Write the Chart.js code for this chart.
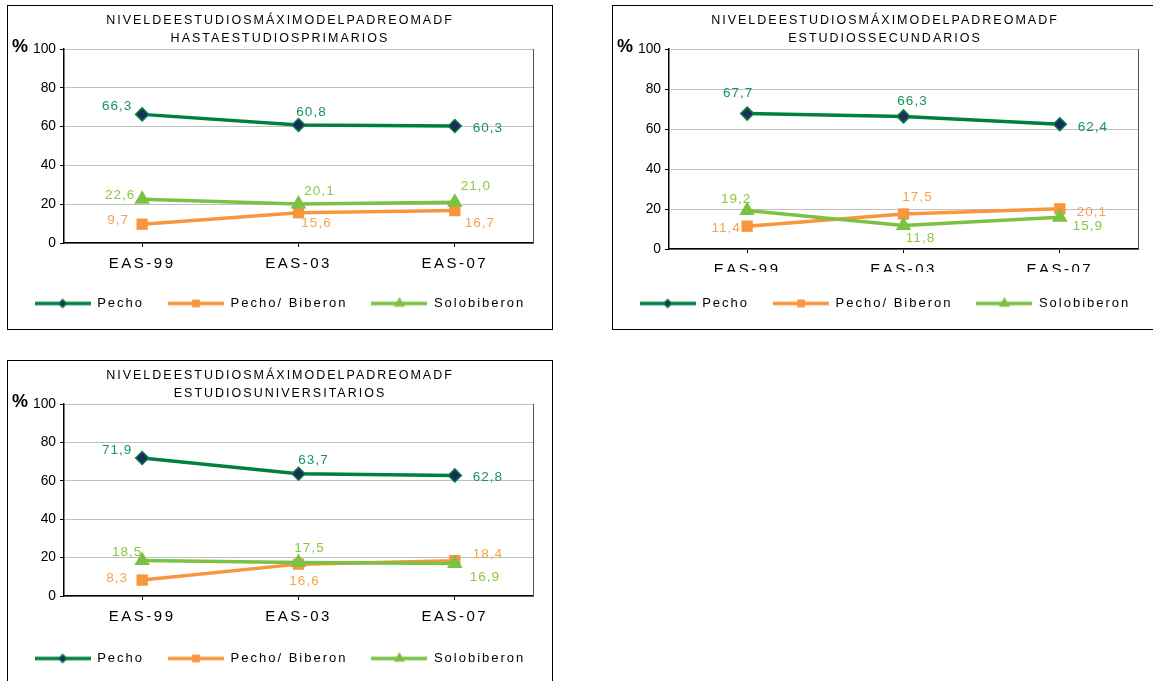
<!DOCTYPE html>
<html lang="es">
<head>
<meta charset="UTF-8">
<title>Nivel de estudios máximo del padre o madre</title>
<script src="https://cdn.jsdelivr.net/npm/chart.js"></script>
<style>
  html, body { margin: 0; padding: 0; background: #fff; overflow: hidden; }
  body { position: relative; width: 1153px; height: 681px; }
  .box { position: absolute; border: 1px solid #000; width: 544px; height: 323px; }
  .box canvas { display: block; }
</style>
</head>
<body>
<div class="box" style="left:7px; top:5px;"><canvas id="chart1" width="544" height="323"></canvas></div>
<div class="box" style="left:612px; top:5px;"><canvas id="chart2" width="544" height="323"></canvas></div>
<div class="box" style="left:7px; top:360px;"><canvas id="chart3" width="544" height="323"></canvas></div>
<script>
// ---- data ----
const categories = ['EAS-99', 'EAS-03', 'EAS-07'];
const seriesNames = ['Pecho', 'Pecho/ Biberon', 'Solobiberon'];
const titleLine1 = 'NIVELDEESTUDIOSMÁXIMODELPADREOMADF';
const subtitles = ['HASTAESTUDIOSPRIMARIOS', 'ESTUDIOSSECUNDARIOS', 'ESTUDIOSUNIVERSITARIOS'];
const unitLabel = '%';
const yMin = 0, yMax = 100, yStep = 20;

// hasta estudios primarios
const pecho1 = [66.3, 60.8, 60.3];
const mixto1 = [9.7, 15.6, 16.7];
const biberon1 = [22.6, 20.1, 21.0];
// estudios secundarios
const pecho2 = [67.7, 66.3, 62.4];
const mixto2 = [11.4, 17.5, 20.1];
const biberon2 = [19.2, 11.8, 15.9];
// estudios universitarios
const pecho3 = [71.9, 63.7, 62.8];
const mixto3 = [8.3, 16.6, 18.4];
const biberon3 = [18.5, 17.5, 16.9];

// ---- styles ----
const FONT = '"Liberation Sans", Arial, sans-serif';
Chart.defaults.font.family = FONT;
Chart.defaults.color = '#000';

const seriesStyles = [
  { color: '#00803f', point: 'rectRot', radius: 6.5, legendRadius: 4, fill: '#1f2b5c', border: 1.5, labelColor: '#16955a', order: 0 },
  { color: '#f7963c', point: 'rect', radius: 8, legendRadius: 5.5, fill: '#f7963c', border: 0, labelColor: '#f7a24e', order: 2 },
  { color: '#7bc143', point: 'triangle', radius: 9, legendRadius: 6.5, fill: '#7bc143', border: 0, labelColor: '#8cc63f', order: 1 }
];

// where each value label sits, relative to its point (dx, dy of the text centre)
const labelOffsets1 = [
  [[-25, -8], [13, -13], [33, 2]],
  [[-24, -4], [18, 11], [25, 13]],
  [[-22, -4], [21, -13], [21, -16]]
];
const labelOffsets2 = [
  [[-9, -20], [9, -15], [33, 3]],
  [[-21, 2], [14, -17], [32, 3]],
  [[-11, -11], [17, 13], [28, 9]]
];
const labelOffsets3 = [
  [[-25, -8], [15, -13], [33, 2]],
  [[-25, -2], [6, 17], [33, -6]],
  [[-15, -8], [11, -14], [30, 14]]
];

// the original picture is letter-spaced; pick spacing by font size
function spacingFor(font) {
  const m = /([\d.]+)px/.exec(font);
  const size = m ? parseFloat(m[1]) : 12;
  if (size === 15) return '2.5px';
  if (size === 13 || size === 12.5) return '2px';
  if (size === 13.5) return '1px';
  return '0px';
}

function spacedContext(canvas) {
  const ctx = canvas.getContext('2d');
  const fill = ctx.fillText.bind(ctx);
  const measure = ctx.measureText.bind(ctx);
  ctx.fillText = function (t, x, y, w) {
    ctx.letterSpacing = spacingFor(ctx.font);
    return w === undefined ? fill(t, x, y) : fill(t, x, y, w);
  };
  ctx.measureText = function (t) {
    ctx.letterSpacing = spacingFor(ctx.font);
    return measure(t);
  };
  return ctx;
}

// line + marker image for the legend
function legendIcon(style) {
  const c = document.createElement('canvas');
  c.width = 56;
  c.height = 14;
  const g = c.getContext('2d');
  g.strokeStyle = style.color;
  g.lineWidth = 3.5;
  g.beginPath();
  g.moveTo(0, 7);
  g.lineTo(56, 7);
  g.stroke();
  g.fillStyle = style.fill;
  g.strokeStyle = style.color;
  g.lineWidth = style.border;
  Chart.helpers.drawPoint(g, { pointStyle: style.point, radius: style.legendRadius, rotation: 0, borderWidth: style.border }, 28, 7);
  return c;
}
const icons = seriesStyles.map(legendIcon);

// value labels, "66,3" style
const valueLabels = {
  id: 'valueLabels',
  afterDatasetsDraw(chart, args, opts) {
    const ctx = chart.ctx;
    ctx.save();
    ctx.font = '13.5px ' + FONT;
    ctx.textAlign = 'center';
    ctx.textBaseline = 'middle';
    chart.data.datasets.forEach((ds, i) => {
      const meta = chart.getDatasetMeta(i);
      ctx.fillStyle = seriesStyles[i].labelColor;
      meta.data.forEach((pt, j) => {
        const [dx, dy] = opts.offsets[i][j];
        ctx.fillText(ds.data[j].toFixed(1).replace('.', ','), pt.x + dx, pt.y + dy);
      });
    });
    ctx.restore();
  }
};

// "%" next to the top tick, and the cut-off category labels of the second chart
const extras = {
  id: 'extras',
  afterDraw(chart, args, opts) {
    const { ctx, chartArea } = chart;
    ctx.save();
    if (opts.cutTicksAt) {
      ctx.fillStyle = '#fff';
      ctx.fillRect(chartArea.left - 30, chartArea.bottom + opts.cutTicksAt, chartArea.width + 40, 14);
    }
    ctx.font = 'bold 18px ' + FONT;
    ctx.fillStyle = '#000';
    ctx.textAlign = 'left';
    ctx.textBaseline = 'middle';
    ctx.fillText(unitLabel, chartArea.left - 52, chartArea.top - 2);
    ctx.restore();
  }
};

function buildDatasets(values) {
  return values.map((data, i) => ({
    label: seriesNames[i],
    data: data,
    yAxisID: 'y',
    borderColor: seriesStyles[i].color,
    borderWidth: 3.5,
    backgroundColor: seriesStyles[i].fill,
    pointStyle: seriesStyles[i].point,
    pointRadius: seriesStyles[i].radius,
    pointBorderColor: seriesStyles[i].color,
    pointBorderWidth: seriesStyles[i].border,
    pointBackgroundColor: seriesStyles[i].fill,
    tension: 0,
    order: seriesStyles[i].order
  }));
}

function makeChart(id, subtitle, values, offsets, xAxisHeight, cutTicksAt) {
  const ctx = spacedContext(document.getElementById(id));
  return new Chart(ctx, {
    type: 'line',
    data: { labels: categories, datasets: buildDatasets(values) },
    plugins: [valueLabels, extras],
    options: {
      responsive: false,
      animation: false,
      events: [],
      layout: { padding: { left: 0, right: 0, top: 0, bottom: 9 } },
      scales: {
        x: {
          offset: true,
          grid: { drawOnChartArea: false, tickLength: 4, color: '#000' },
          border: { color: '#000', width: 1.5 },
          ticks: { color: '#000', font: { size: 15 }, padding: 8, maxRotation: 0, autoSkip: false },
          afterFit: (s) => { s.height = xAxisHeight; }
        },
        y: {
          min: yMin,
          max: yMax,
          grid: { color: '#c0c0c0', tickColor: '#000', tickLength: 4 },
          border: { color: '#000', width: 1.5 },
          ticks: { stepSize: yStep, color: '#000', font: { size: 13.8 }, padding: 4 },
          afterFit: (s) => { s.width = 56; }
        },
        y2: {
          position: 'right',
          min: yMin,
          max: yMax,
          grid: { display: false, drawTicks: false },
          ticks: { display: false },
          border: { color: '#555', width: 1 },
          afterFit: (s) => { s.width = 19; }
        }
      },
      plugins: {
        tooltip: { enabled: false },
        title: {
          display: true,
          text: [titleLine1, subtitle],
          color: '#000',
          font: { size: 12.5, weight: 'normal', lineHeight: 1.44 },
          padding: { top: 6, bottom: 1 }
        },
        legend: {
          position: 'bottom',
          labels: {
            usePointStyle: true,
            pointStyleWidth: 56,
            padding: 24,
            color: '#000',
            font: { size: 13 },
            sort: (a, b) => a.datasetIndex - b.datasetIndex,
            generateLabels(chart) {
              const items = Chart.defaults.plugins.legend.labels.generateLabels(chart);
              items.forEach((it) => { it.pointStyle = icons[it.datasetIndex]; });
              return items;
            }
          }
        },
        valueLabels: { offsets: offsets },
        extras: { cutTicksAt: cutTicksAt }
      }
    }
  });
}

makeChart('chart1', subtitles[0], [pecho1, mixto1, biberon1], labelOffsets1, 30, 0);
makeChart('chart2', subtitles[1], [pecho2, mixto2, biberon2], labelOffsets2, 24, 23);
makeChart('chart3', subtitles[2], [pecho3, mixto3, biberon3], labelOffsets3, 32, 0);
</script>
</body>
</html>
